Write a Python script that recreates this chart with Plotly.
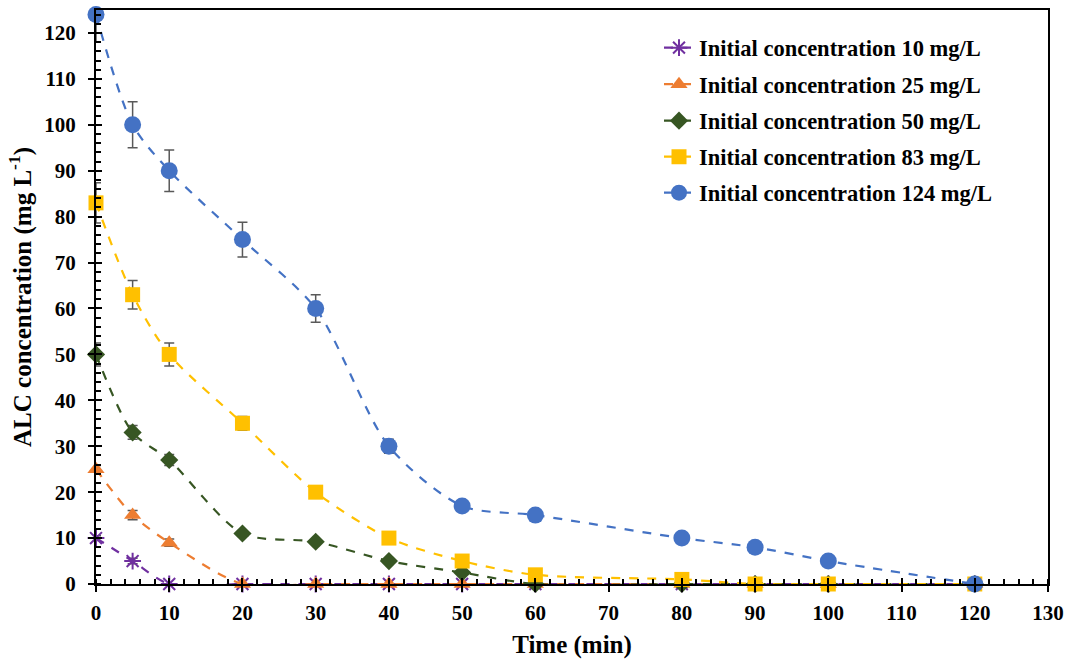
import plotly.graph_objects as go

# ---------------- data ----------------
time_min = [0, 5, 10, 20, 30, 40, 50, 60, 80, 90, 100, 120]

conc_10 = [10, 5, 0, 0, 0, 0, 0, 0, 0, 0, 0, 0]
conc_25 = [25, 15, 9, 0, 0, 0, 0, 0, 0, 0, 0, 0]
conc_50 = [50, 33, 27, 11, 9.2, 5, 2.5, 0, 0, 0, 0, 0]
conc_83 = [83, 63, 50, 35, 20, 10, 5, 2, 1, 0, 0, 0]
conc_124 = [124, 100, 90, 75, 60, 30, 17, 15, 10, 8, 5, 0]

err_10 = [0.5, 0.6, 0, 0, 0, 0, 0, 0, 0, 0, 0, 0]
err_25 = [0.8, 1.0, 0.8, 0, 0, 0, 0, 0, 0, 0, 0, 0]
err_50 = [2.5, 1.5, 1.2, 0.6, 0.5, 0.4, 0.3, 0, 0, 0, 0, 0]
err_83 = [4.4, 3.1, 2.5, 1.5, 0.8, 0.6, 0.4, 0, 0, 0, 0, 0]
err_124_minus = [6, 5, 4.5, 3.8, 3, 1.5, 0.8, 0.6, 0.5, 0.4, 0.3, 0]
err_124_plus = [1, 5, 4.5, 3.8, 3, 1.5, 0.8, 0.6, 0.5, 0.4, 0.3, 0]

labels = ["Initial concentration 10 mg/L", "Initial concentration 25 mg/L",
          "Initial concentration 50 mg/L", "Initial concentration 83 mg/L",
          "Initial concentration 124 mg/L"]

x_ticks = list(range(0, 131, 10))
y_ticks = list(range(0, 121, 10))

FONT = "Liberation Serif"
ERR_COLOR = "#595959"

series = [
    (conc_10, err_10, err_10, "#7030A0", "asterisk-open", 14),
    (conc_25, err_25, err_25, "#ED7D31", "triangle-up", 15),
    (conc_50, err_50, err_50, "#375623", "diamond", 14),
    (conc_83, err_83, err_83, "#FFC000", "square", 15),
    (conc_124, err_124_plus, err_124_minus, "#4472C4", "circle", 17),
]

fig = go.Figure()
legend_names = ["legend", "legend2", "legend3", "legend4", "legend5"]
for i, (vals, ep, em, col, sym, sz) in enumerate(series):
    marker = dict(symbol=sym, size=sz, color=col)
    if sym == "asterisk-open":
        marker["line"] = dict(color=col, width=2)
    fig.add_trace(go.Scatter(
        x=time_min, y=vals, name=labels[i], mode="lines+markers",
        line=dict(color=col, width=2.2, dash="dash", shape="spline", smoothing=0.8),
        marker=marker,
        error_y=dict(type="data", symmetric=False, array=ep, arrayminus=em,
                     color=ERR_COLOR, thickness=1.5, width=5),
        cliponaxis=False,
        legend=legend_names[i],
    ))

# overlay axes to draw the inner half of the crossing major ticks
fig.add_trace(go.Scatter(x=[], y=[], xaxis="x2", yaxis="y2", showlegend=False))

L, R, T, B = 96, 25, 10, 75
W, H = 1073, 659
pw = W - L - R
ph = H - T - B

def px_to_paper_y(py):
    return (H - B - py) / ph

leg_x = (659 - L) / pw
row_y = [48, 84.5, 121, 157, 193]

tickfont = dict(family=FONT, size=21, color="black", weight="bold")

layout = dict(
    width=W, height=H,
    margin=dict(l=L, r=R, t=T, b=B, autoexpand=False),
    paper_bgcolor="white", plot_bgcolor="white",
    xaxis=dict(
        range=[0, 130], tickvals=x_ticks, ticks="outside", ticklen=6, tickwidth=2,
        tickcolor="black", showline=True, linecolor="black", linewidth=2, mirror=True,
        showgrid=False, zeroline=False, tickfont=tickfont, ticklabelstandoff=3, automargin=False,
        minor=dict(dtick=2, ticks="inside", ticklen=5, tickwidth=1.5, tickcolor="black", showgrid=False),
        title=dict(text="Time (min)", font=dict(family=FONT, size=25, color="black", weight="bold"), standoff=16),
    ),
    yaxis=dict(
        range=[0, 125], tickvals=y_ticks, ticks="outside", ticklen=6, tickwidth=2,
        tickcolor="black", showline=True, linecolor="black", linewidth=2, mirror=True,
        showgrid=False, zeroline=False, tickfont=tickfont, ticklabelstandoff=8, automargin=False,
        minor=dict(dtick=2, ticks="inside", ticklen=5, tickwidth=1.5, tickcolor="black", showgrid=False),
        title=dict(text="ALC concentration (mg L<sup>-1</sup>)",
                   font=dict(family=FONT, size=25, color="black", weight="bold"), standoff=6),
    ),
    xaxis2=dict(range=[0, 130], overlaying="x", anchor="y", side="bottom", tickvals=x_ticks,
                ticks="inside", ticklen=6, tickwidth=2, tickcolor="black", automargin=False,
                showticklabels=False, showline=False, showgrid=False, zeroline=False),
    yaxis2=dict(range=[0, 125], overlaying="y", anchor="x", side="left", tickvals=y_ticks,
                ticks="inside", ticklen=6, tickwidth=2, tickcolor="black", automargin=False,
                showticklabels=False, showline=False, showgrid=False, zeroline=False),
    showlegend=True,
)
for i, ln in enumerate(legend_names):
    layout[ln] = dict(x=leg_x, y=px_to_paper_y(row_y[i]), xanchor="left", yanchor="middle",
                      bgcolor="rgba(0,0,0,0)",
                      font=dict(family=FONT, size=22.5, color="black", weight="bold"))

fig.update_layout(**layout)
fig.write_html("out.html", config={"displayModeBar": False},
               post_script="document.body.style.margin='0';")
